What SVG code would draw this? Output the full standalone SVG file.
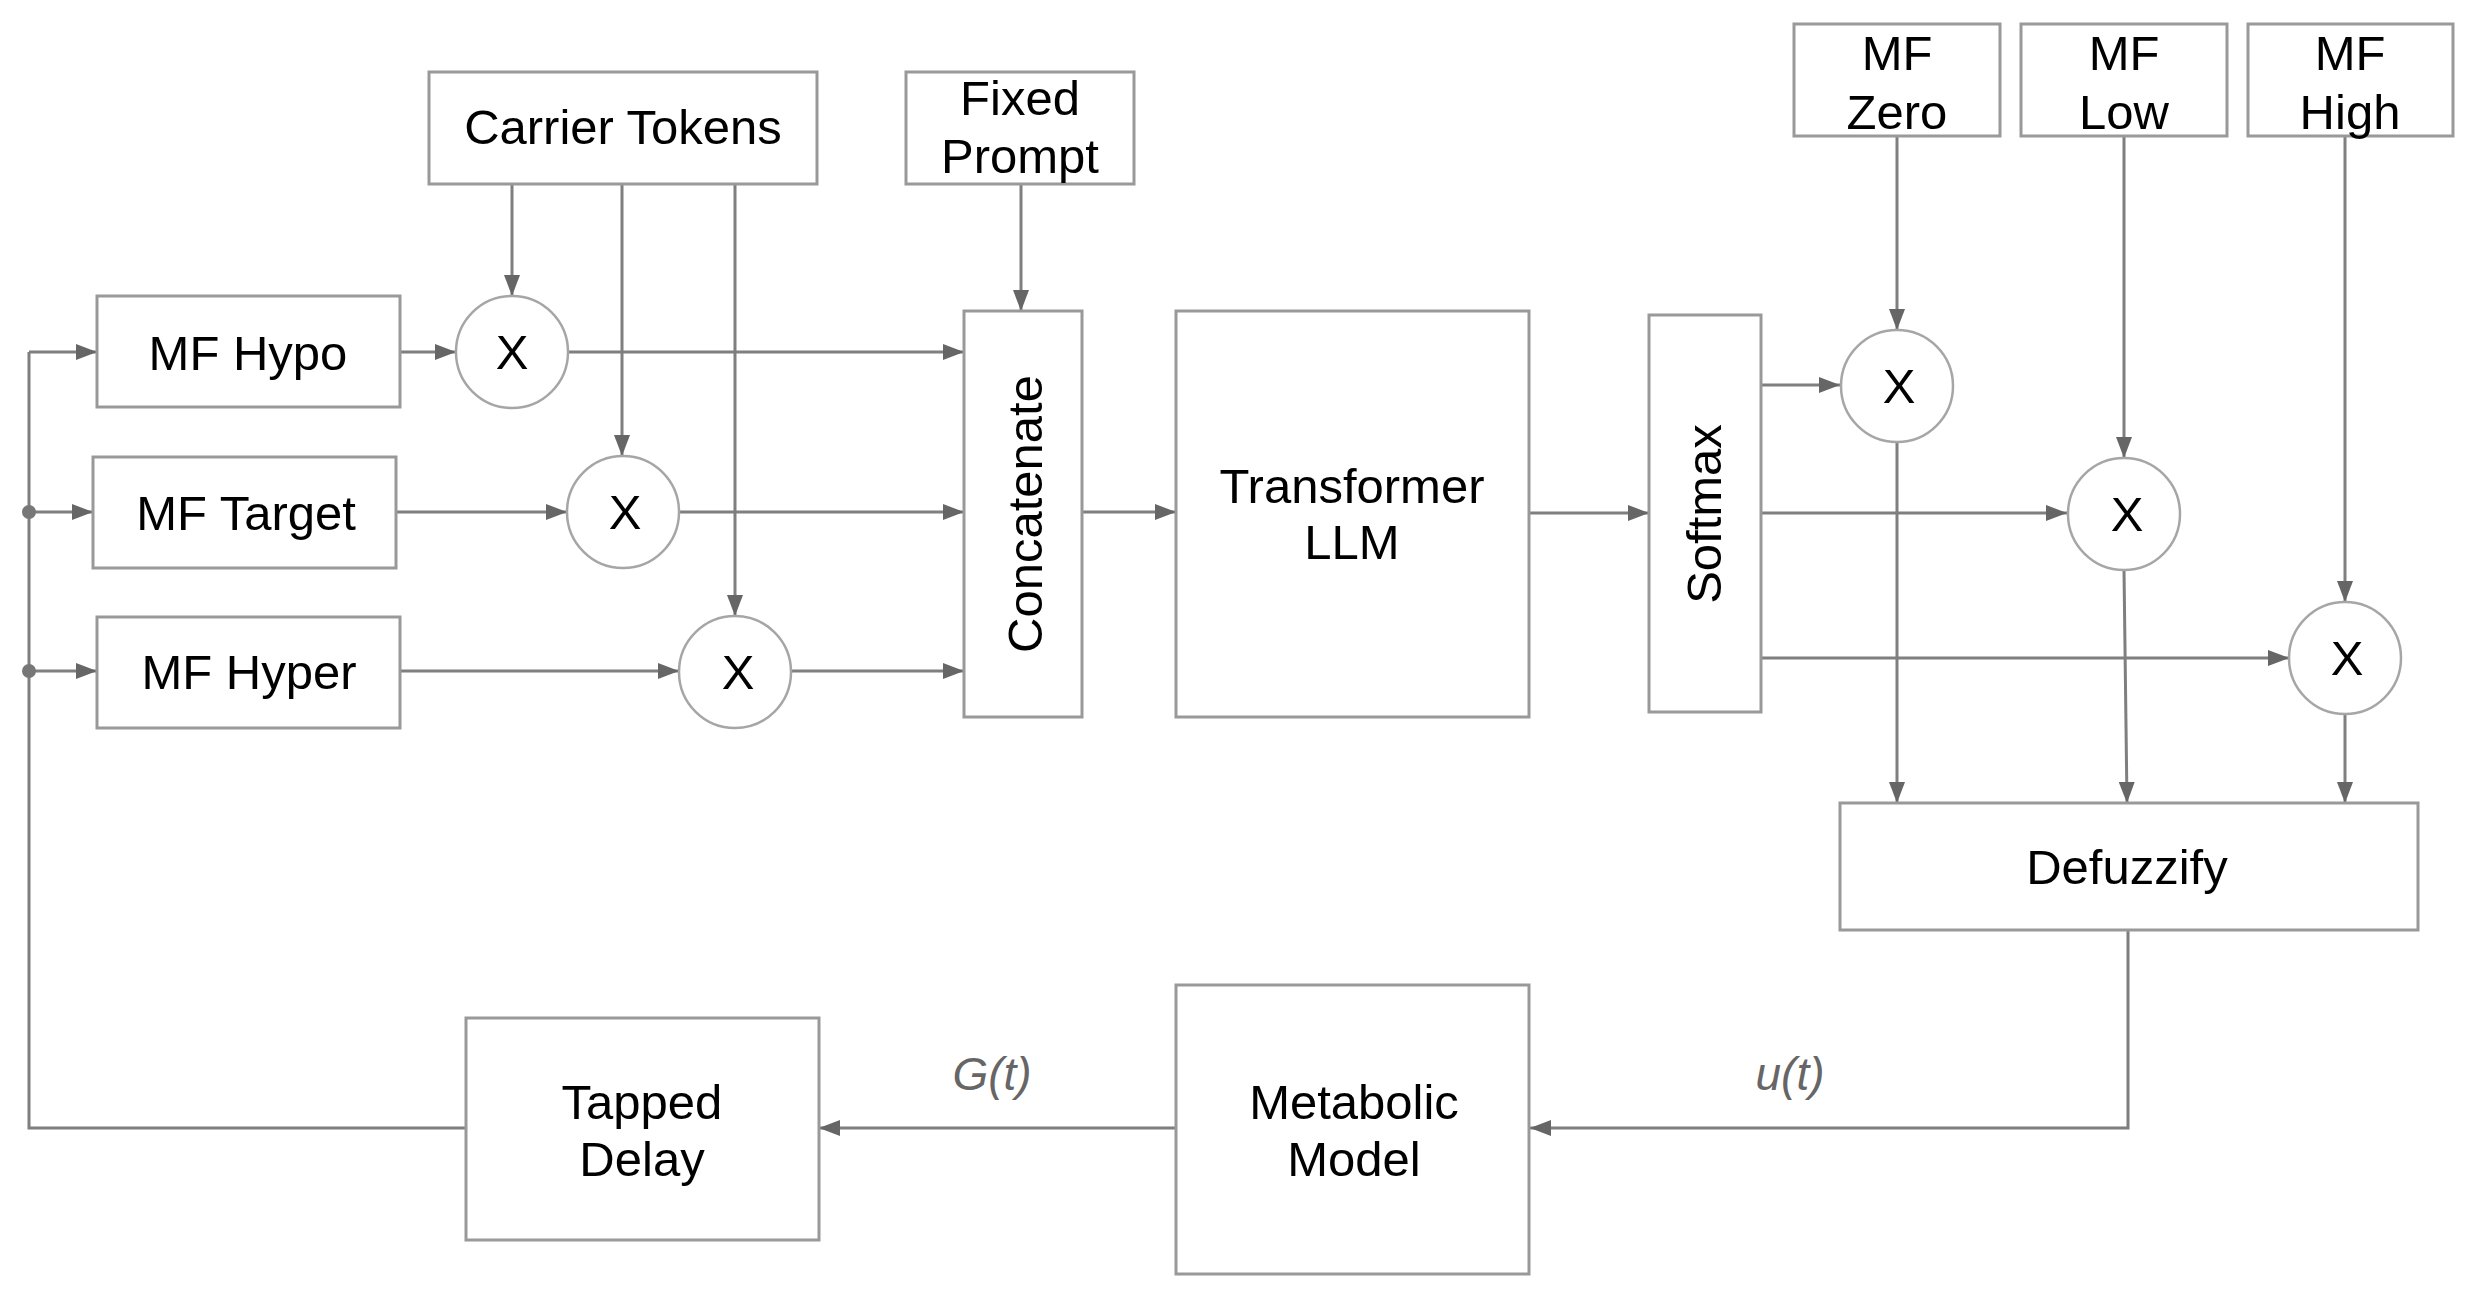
<svg xmlns="http://www.w3.org/2000/svg" width="2480" height="1299" viewBox="0 0 2480 1299">
<defs>
<style>
.box{fill:#fff;stroke:#999;stroke-width:3}
.circ{fill:#fff;stroke:#a6a6a6;stroke-width:2.5}
.t{font-family:"Liberation Sans",Arial,sans-serif;font-size:49px;fill:#000;text-anchor:middle}
.lbl{font-family:"Liberation Sans",Arial,sans-serif;font-size:46px;font-style:italic;fill:#666;text-anchor:middle}
.ln{fill:none;stroke:#7f7f7f;stroke-width:3}
.arr{marker-end:url(#ah)}
</style>
<marker id="ah" markerUnits="userSpaceOnUse" markerWidth="22" markerHeight="16" refX="21" refY="8" orient="auto">
<path d="M0,0 L21,8 L0,16 z" fill="#666"/>
</marker>
</defs>
<rect width="2480" height="1299" fill="#fff"/>

<g id="connectors">
<!-- carrier tokens -->
<path class="ln arr" d="M512,184 V296"/>
<path class="ln arr" d="M622,184 V456"/>
<path class="ln arr" d="M735,184 V616"/>
<!-- fixed prompt -->
<path class="ln arr" d="M1021,184 V311"/>
<!-- feedback -->
<path class="ln" d="M466,1128 H29 V352"/>
<path class="ln arr" d="M29,352 H97"/>
<path class="ln arr" d="M29,512 H93"/>
<path class="ln arr" d="M29,671 H97"/>
<circle cx="29" cy="512" r="7" fill="#777"/>
<circle cx="29" cy="671" r="7" fill="#777"/>
<!-- MF to X -->
<path class="ln arr" d="M400,352 H456"/>
<path class="ln arr" d="M396,512 H567"/>
<path class="ln arr" d="M400,671 H679"/>
<!-- X to concat -->
<path class="ln arr" d="M568,352 H964"/>
<path class="ln arr" d="M679,512 H964"/>
<path class="ln arr" d="M791,671 H964"/>
<!-- concat to transformer to softmax -->
<path class="ln arr" d="M1082,512 H1176"/>
<path class="ln arr" d="M1529,513 H1649"/>
<!-- softmax outputs -->
<path class="ln arr" d="M1761,385 H1840"/>
<path class="ln arr" d="M1761,513 H2067"/>
<path class="ln arr" d="M1761,658 H2289"/>
<!-- MF outputs -->
<path class="ln arr" d="M1897,136 V330"/>
<path class="ln arr" d="M2124,136 V458"/>
<path class="ln arr" d="M2345,136 V602"/>
<!-- X to defuzzify -->
<path class="ln arr" d="M1897,441 V803"/>
<path class="ln arr" d="M2124,570 L2127,803"/>
<path class="ln arr" d="M2345,714 V803"/>
<!-- defuzzify to metabolic -->
<path class="ln arr" d="M2128,930 V1128 H1530"/>
<!-- metabolic to tapped delay -->
<path class="ln arr" d="M1175,1128 H819"/>
<text class="lbl" x="992" y="1090">G(t)</text>
<text class="lbl" x="1790" y="1090">u(t)</text>
</g>

<g id="carrier-tokens"><rect class="box" x="429" y="72" width="388" height="112"/><text class="t" x="623" y="144">Carrier Tokens</text></g>
<g id="fixed-prompt"><rect class="box" x="906" y="72" width="228" height="112"/><text class="t" x="1020" y="115">Fixed</text><text class="t" x="1020" y="173">Prompt</text></g>
<g id="mf-zero"><rect class="box" x="1794" y="24" width="206" height="112"/><text class="t" x="1897" y="70">MF</text><text class="t" x="1897" y="129">Zero</text></g>
<g id="mf-low"><rect class="box" x="2021" y="24" width="206" height="112"/><text class="t" x="2124" y="70">MF</text><text class="t" x="2124" y="129">Low</text></g>
<g id="mf-high"><rect class="box" x="2248" y="24" width="205" height="112"/><text class="t" x="2350" y="70">MF</text><text class="t" x="2350" y="129">High</text></g>

<g id="mf-hypo"><rect class="box" x="97" y="296" width="303" height="111"/><text class="t" x="248" y="370">MF Hypo</text></g>
<g id="mf-target"><rect class="box" x="93" y="457" width="303" height="111"/><text class="t" x="246" y="530">MF Target</text></g>
<g id="mf-hyper"><rect class="box" x="97" y="617" width="303" height="111"/><text class="t" x="249" y="689">MF Hyper</text></g>

<g id="x-hypo"><circle class="circ" cx="512" cy="352" r="56"/><text class="t" x="512" y="369">X</text></g>
<g id="x-target"><circle class="circ" cx="623" cy="512" r="56"/><text class="t" x="625" y="529">X</text></g>
<g id="x-hyper"><circle class="circ" cx="735" cy="672" r="56"/><text class="t" x="738" y="689">X</text></g>

<g id="concatenate"><rect class="box" x="964" y="311" width="118" height="406"/><text class="t" transform="translate(1042,514) rotate(-90)">Concatenate</text></g>
<g id="transformer-llm"><rect class="box" x="1176" y="311" width="353" height="406"/><text class="t" x="1352" y="503">Transformer</text><text class="t" x="1352" y="559">LLM</text></g>
<g id="softmax"><rect class="box" x="1649" y="315" width="112" height="397"/><text class="t" transform="translate(1721,514) rotate(-90)">Softmax</text></g>

<g id="x-zero"><circle class="circ" cx="1897" cy="386" r="56"/><text class="t" x="1899" y="403">X</text></g>
<g id="x-low"><circle class="circ" cx="2124" cy="514" r="56"/><text class="t" x="2127" y="531">X</text></g>
<g id="x-high"><circle class="circ" cx="2345" cy="658" r="56"/><text class="t" x="2347" y="675">X</text></g>

<g id="defuzzify"><rect class="box" x="1840" y="803" width="578" height="127"/><text class="t" x="2127" y="884">Defuzzify</text></g>
<g id="metabolic-model"><rect class="box" x="1176" y="985" width="353" height="289"/><text class="t" x="1354" y="1119">Metabolic</text><text class="t" x="1354" y="1176">Model</text></g>
<g id="tapped-delay"><rect class="box" x="466" y="1018" width="353" height="222"/><text class="t" x="642" y="1119">Tapped</text><text class="t" x="642" y="1176">Delay</text></g>
</svg>
